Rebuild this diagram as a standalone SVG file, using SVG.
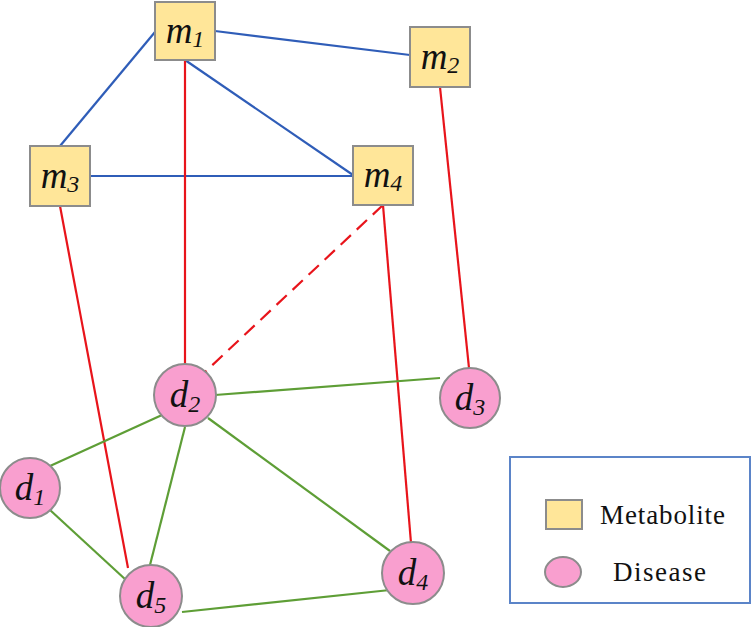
<svg xmlns="http://www.w3.org/2000/svg" width="753" height="627" viewBox="0 0 753 627">
<style>
.m{fill:#FFE699;stroke:#8C8C8C;stroke-width:2}
.d{fill:#F99FCF;stroke:#8C8C8C;stroke-width:2}
.b{stroke:#2F5DB8;stroke-width:2.2;fill:none}
.r{stroke:#E8141B;stroke-width:2.2;fill:none}
.g{stroke:#5E9E36;stroke-width:2.2;fill:none}
</style>
<rect width="753" height="627" fill="#fff"/>
<g id="connectors">
<line class="b" x1="215" y1="31" x2="410" y2="55"/>
<line class="b" x1="60" y1="146" x2="155" y2="32"/>
<line class="b" x1="185" y1="60" x2="353" y2="175"/>
<line class="b" x1="90" y1="176" x2="353" y2="176"/>
<line class="r" x1="185" y1="60" x2="185" y2="364"/>
<line class="r" x1="440" y1="87" x2="469" y2="368"/>
<line class="r" x1="60" y1="206" x2="128" y2="568"/>
<line class="r" x1="383" y1="205" x2="411" y2="543"/>
<line class="r" x1="383" y1="205" x2="205" y2="372" stroke-dasharray="14,8"/>
<line class="g" x1="215" y1="395" x2="440" y2="378"/>
<line class="g" x1="162" y1="415" x2="50" y2="466"/>
<line class="g" x1="185" y1="427" x2="150" y2="565"/>
<line class="g" x1="208" y1="418" x2="390" y2="551"/>
<line class="g" x1="50" y1="510" x2="126" y2="580"/>
<line class="g" x1="182" y1="612" x2="390" y2="590"/>
</g>
<g font-family="Liberation Serif, Times New Roman, serif" font-style="italic" font-size="37" fill="#111" text-anchor="middle">
<g id="m1"><rect class="m" x="155" y="2" width="60" height="58"/><text x="185" y="43">m<tspan font-size="24" dy="4">1</tspan></text></g>
<g id="m2"><rect class="m" x="410" y="27" width="60" height="60"/><text x="440" y="69">m<tspan font-size="24" dy="4">2</tspan></text></g>
<g id="m3"><rect class="m" x="30" y="146" width="60" height="60"/><text x="60" y="188">m<tspan font-size="24" dy="4">3</tspan></text></g>
<g id="m4"><rect class="m" x="353" y="146" width="60" height="59"/><text x="383" y="187">m<tspan font-size="24" dy="4">4</tspan></text></g>
<g id="d1"><circle class="d" cx="30" cy="488" r="30"/><text x="30" y="500">d<tspan font-size="24" dy="5">1</tspan></text></g>
<g id="d2"><circle class="d" cx="185" cy="395" r="31"/><text x="185" y="407">d<tspan font-size="24" dy="5">2</tspan></text></g>
<g id="d3"><circle class="d" cx="470" cy="398" r="30"/><text x="470" y="410">d<tspan font-size="24" dy="5">3</tspan></text></g>
<g id="d4"><circle class="d" cx="413" cy="573" r="31"/><text x="413" y="585">d<tspan font-size="24" dy="5">4</tspan></text></g>
<g id="d5"><circle class="d" cx="151" cy="596" r="31"/><text x="151" y="608">d<tspan font-size="24" dy="5">5</tspan></text></g>
</g>
<g id="legend" font-family="Liberation Serif, Times New Roman, serif" font-size="27" fill="#111">
<rect x="510" y="457" width="240" height="146" fill="#fff" stroke="#5B84C8" stroke-width="2"/>
<rect x="546" y="500" width="36" height="29" class="m"/>
<ellipse cx="563" cy="572" rx="18" ry="15" class="d"/>
<text x="600" y="524" textLength="125">Metabolite</text>
<text x="613" y="581" textLength="93">Disease</text>
</g>
</svg>
